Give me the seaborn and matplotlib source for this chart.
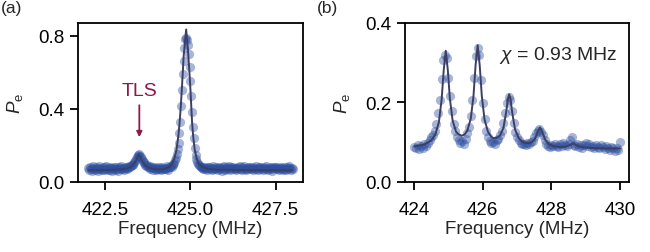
import numpy as np
import pandas as pd
import matplotlib
matplotlib.use("Agg")
import matplotlib.pyplot as plt
import seaborn as sns

# panel (a): single-tone spectroscopy with TLS
pe_a = [
    0.078, 0.065, 0.083, 0.070, 0.062, 0.076, 0.088, 0.071, 0.066, 0.080,
    0.074, 0.060, 0.072, 0.085, 0.069, 0.077, 0.064, 0.081, 0.073, 0.068,
    0.079, 0.087, 0.070, 0.063, 0.075, 0.082, 0.068, 0.074, 0.061, 0.077,
    0.084, 0.071, 0.066, 0.079, 0.073, 0.062, 0.080, 0.075, 0.069, 0.086,
    0.072, 0.078, 0.067, 0.081, 0.074, 0.070, 0.083, 0.077, 0.088, 0.079,
    0.086, 0.092, 0.098, 0.094, 0.108, 0.115, 0.127, 0.136, 0.142, 0.150,
    0.152, 0.144, 0.138, 0.126, 0.117, 0.104, 0.108, 0.095, 0.088, 0.091,
    0.083, 0.079, 0.086, 0.072, 0.076, 0.081, 0.068, 0.074, 0.079, 0.071,
    0.066, 0.077, 0.072, 0.083, 0.069, 0.075, 0.064, 0.080, 0.073, 0.070,
    0.078, 0.071, 0.085, 0.076, 0.068, 0.082, 0.079, 0.088, 0.084, 0.094,
    0.098, 0.106, 0.118, 0.131, 0.152, 0.178, 0.212, 0.268, 0.330, 0.418,
    0.505, 0.590, 0.665, 0.735, 0.782, 0.790, 0.778, 0.752, 0.700, 0.628,
    0.552, 0.468, 0.385, 0.302, 0.238, 0.188, 0.150, 0.128, 0.110, 0.098,
    0.092, 0.088, 0.080, 0.084, 0.076, 0.073, 0.081, 0.070, 0.078, 0.074,
    0.068, 0.079, 0.083, 0.071, 0.075, 0.064, 0.077, 0.086, 0.072, 0.069,
    0.080, 0.074, 0.066, 0.078, 0.083, 0.070, 0.075, 0.062, 0.079, 0.085,
    0.073, 0.068, 0.077, 0.081, 0.071, 0.087, 0.074, 0.066, 0.079, 0.072,
    0.083, 0.075, 0.069, 0.078, 0.064, 0.076, 0.082, 0.071, 0.088, 0.073,
    0.067, 0.079, 0.074, 0.085, 0.070, 0.063, 0.077, 0.081, 0.072, 0.076,
    0.084, 0.069, 0.075, 0.080, 0.066, 0.078, 0.073, 0.087, 0.071, 0.068,
    0.079, 0.074, 0.082, 0.070, 0.076, 0.065, 0.081, 0.073, 0.077, 0.086,
    0.072, 0.068, 0.078, 0.083, 0.071, 0.075, 0.062, 0.079, 0.074, 0.080,
    0.069, 0.077, 0.084, 0.072, 0.066, 0.078, 0.081, 0.070, 0.075, 0.063,
    0.079, 0.073, 0.068, 0.082, 0.076, 0.071, 0.085, 0.074, 0.067, 0.078,
    0.072,
]
freq_a = np.linspace(422.0, 428.0, len(pe_a))

fit_a_x = [422.0, 422.5, 423.0, 423.2, 423.3, 423.38, 423.44, 423.485, 423.53,
           423.59, 423.67, 423.78, 423.95, 424.21, 424.38, 424.465, 424.53,
           424.59, 424.64, 424.68, 424.715, 424.746, 424.775, 424.80, 424.84,
           424.874, 424.905, 424.94, 424.97, 425.0, 425.025, 425.05, 425.085,
           425.126, 425.18, 425.24, 425.35, 425.49, 425.8, 426.5, 427.5, 428.0]
fit_a_y = [0.064, 0.065, 0.069, 0.077, 0.088, 0.108, 0.133, 0.152, 0.136,
           0.111, 0.090, 0.077, 0.070, 0.068, 0.082, 0.100, 0.130,
           0.175, 0.245, 0.320, 0.410, 0.504, 0.600, 0.687, 0.770,
           0.835, 0.770, 0.687, 0.600, 0.504, 0.410, 0.320, 0.240,
           0.175, 0.130, 0.100, 0.082, 0.072, 0.067, 0.065, 0.064, 0.064]

# panel (b): photon-number resolved peaks
pe_b = [
    0.088, 0.084, 0.093, 0.082, 0.090, 0.086, 0.095, 0.089, 0.097, 0.104,
    0.112, 0.118, 0.128, 0.145, 0.172, 0.205, 0.258, 0.305, 0.318, 0.312,
    0.262, 0.215, 0.178, 0.145, 0.128, 0.112, 0.105, 0.098, 0.102, 0.095,
    0.108, 0.122, 0.138, 0.165, 0.205, 0.262, 0.315, 0.335, 0.318, 0.255,
    0.198, 0.158, 0.128, 0.112, 0.103, 0.097, 0.100, 0.094, 0.105, 0.108,
    0.118, 0.128, 0.148, 0.172, 0.198, 0.212, 0.205, 0.178, 0.148, 0.125,
    0.112, 0.105, 0.098, 0.094, 0.096, 0.092, 0.097, 0.094, 0.099, 0.103,
    0.112, 0.122, 0.128, 0.132, 0.125, 0.118, 0.104, 0.096, 0.090, 0.087,
    0.092, 0.089, 0.096, 0.091, 0.088, 0.094, 0.090, 0.097, 0.093, 0.089,
    0.095, 0.104, 0.112, 0.093, 0.090, 0.096, 0.088, 0.092, 0.085, 0.093,
    0.098, 0.090, 0.094, 0.087, 0.091, 0.085, 0.093, 0.088, 0.084, 0.092,
    0.087, 0.083, 0.090, 0.085, 0.080, 0.088, 0.084, 0.078, 0.086, 0.081,
    0.100,
]
freq_b = np.linspace(424.0, 430.0, len(pe_b))

fit_b_x = [424.0, 424.3, 424.5, 424.62, 424.72, 424.8, 424.86, 424.92, 424.98,
           425.04, 425.12, 425.22, 425.3, 425.385, 425.47, 425.55, 425.65,
           425.73, 425.79, 425.85, 425.91, 425.97, 426.05, 426.15, 426.25,
           426.31, 426.4, 426.5, 426.6, 426.68, 426.73, 426.77, 426.81, 426.86,
           426.94, 427.04, 427.14, 427.22, 427.32, 427.42, 427.52, 427.6,
           427.67, 427.74, 427.82, 427.92, 428.05, 428.2, 428.4, 428.55,
           428.64, 428.73, 428.9, 429.2, 429.6, 430.0]
fit_b_y = [0.089, 0.094, 0.104, 0.120, 0.150, 0.207, 0.280, 0.329, 0.281,
           0.209, 0.154, 0.126, 0.119, 0.116, 0.119, 0.129, 0.159,
           0.217, 0.293, 0.343, 0.293, 0.217, 0.157, 0.126, 0.113,
           0.110, 0.110, 0.116, 0.135, 0.174, 0.207, 0.220, 0.207, 0.173,
           0.132, 0.111, 0.101, 0.098, 0.097, 0.099, 0.108, 0.125,
           0.137, 0.124, 0.106, 0.095, 0.090, 0.088, 0.088, 0.093,
           0.097, 0.092, 0.087, 0.085, 0.084, 0.084]

CHI_LABEL = r"$\chi$ = 0.93 MHz"
DOT   = "#2d4f9e"
LINE  = "#3b3f66"
TLS_C = "#8b1a47"
FS    = 13.5

sns.set_style("ticks")
plt.rcParams["font.family"] = ["Liberation Sans", "DejaVu Sans"]
plt.rcParams["mathtext.fontset"] = "custom"
plt.rcParams["mathtext.it"] = "Liberation Sans:italic"
plt.rcParams["mathtext.rm"] = "Liberation Sans"

fig = plt.figure(figsize=(6.5, 2.53), dpi=100)
ax_a = fig.add_axes([0.120, 0.277, 0.346, 0.630])
ax_b = fig.add_axes([0.623, 0.277, 0.345, 0.630])


def draw_panel(ax, fx, fy, lx, ly):
    sns.scatterplot(x=fx, y=fy, ax=ax, s=44, color=DOT, alpha=0.42,
                    linewidth=0, zorder=2)
    sns.lineplot(x=lx, y=ly, ax=ax, color=LINE, lw=1.4, zorder=3,
                 sort=False)
    ax.set_xlabel("Frequency (MHz)", fontsize=FS, labelpad=2)
    ax.set_ylabel(r"$P_\mathrm{e}$", fontsize=FS, labelpad=10)
    for s in ax.spines.values():
        s.set_linewidth(1.3)
        s.set_color("black")
    ax.tick_params(direction="out", length=5.5, width=1.3, labelsize=FS,
                   colors="black")
    ax.tick_params(axis="x", pad=8)
    ax.tick_params(axis="y", pad=4)


draw_panel(ax_a, freq_a, pe_a, fit_a_x, fit_a_y)
ax_a.set_xlim(421.7, 428.3)
ax_a.set_ylim(0, 0.873)
ax_a.set_xticks([422.5, 425.0, 427.5])
ax_a.set_xticklabels(["422.5", "425.0", "427.5"])
ax_a.set_yticks([0.0, 0.4, 0.8])
ax_a.set_yticklabels(["0.0", "0.4", "0.8"])
ax_a.annotate("", xy=(423.5, 0.245), xytext=(423.5, 0.42),
              arrowprops=dict(arrowstyle="-|>", color=TLS_C, lw=1.3,
                              mutation_scale=8, shrinkA=0, shrinkB=0))
ax_a.text(423.5, 0.50, "TLS", color=TLS_C, fontsize=14, ha="center",
          va="center")

draw_panel(ax_b, freq_b, pe_b, fit_b_x, fit_b_y)
ax_b.set_xlim(423.73, 430.27)
ax_b.set_ylim(0, 0.4)
ax_b.set_xticks([424, 426, 428, 430])
ax_b.set_yticks([0.0, 0.2, 0.4])
ax_b.set_yticklabels(["0.0", "0.2", "0.4"])
ax_b.text(0.42, 0.80, CHI_LABEL, transform=ax_b.transAxes, fontsize=14,
          ha="left", va="center")

fig.text(0.002, 0.995, "(a)", fontsize=12.5, ha="left", va="top")
fig.text(0.487, 0.995, "(b)", fontsize=12.5, ha="left", va="top")

fig.savefig("out.png", dpi=100)
